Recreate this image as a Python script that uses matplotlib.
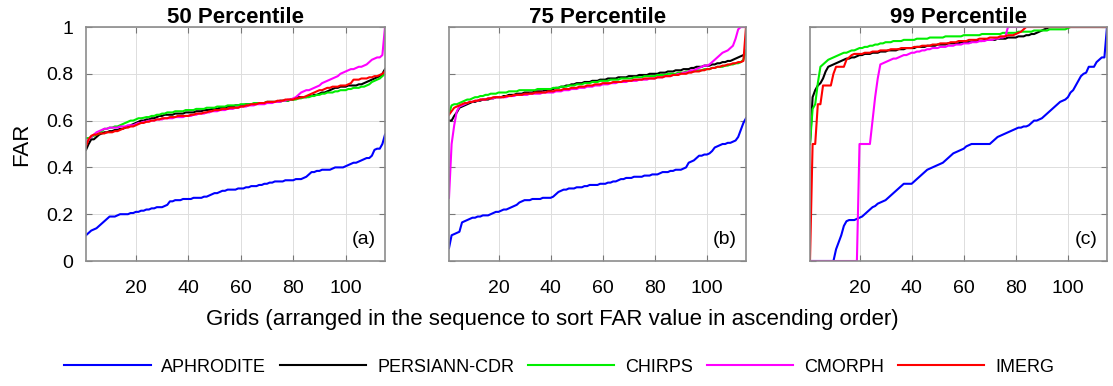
import numpy as np
import matplotlib
matplotlib.use("Agg")
import matplotlib.pyplot as plt

plt.rcParams['font.family'] = ['Liberation Sans', 'DejaVu Sans']

titles = ["50 Percentile", "75 Percentile", "99 Percentile"]
panel_tags = ["(a)", "(b)", "(c)"]
product_names = ["APHRODITE", "PERSIANN-CDR", "CHIRPS", "CMORPH", "IMERG"]
product_colors = ["#0000ff", "#000000", "#00ee00", "#ff00ff", "#ff0000"]
x_ticks = [20, 40, 60, 80, 100]
y_ticks = [0, 0.2, 0.4, 0.6, 0.8, 1]
y_tick_labels = ["0", "0.2", "0.4", "0.6", "0.8", "1"]

# ---------- 50 percentile ----------
aphrodite_50 = [
    .11, .12, .13, .135, .14, .15, .16, .17, .18, .19,
    .19, .19, .195, .20, .20, .20, .20, .205, .205, .21,
    .21, .215, .215, .22, .22, .225, .225, .23, .23, .23,
    .235, .24, .255, .255, .26, .26, .26, .265, .265, .265,
    .265, .27, .27, .27, .27, .275, .275, .28, .285, .29,
    .29, .295, .30, .30, .305, .305, .305, .305, .31, .31,
    .31, .315, .315, .32, .32, .32, .325, .325, .33, .33,
    .335, .335, .34, .34, .34, .34, .345, .345, .345, .345,
    .35, .35, .35, .355, .36, .37, .38, .38, .385, .385,
    .39, .39, .39, .39, .395, .40, .40, .40, .40, .405,
    .41, .415, .42, .42, .425, .43, .435, .44, .44, .45,
    .475, .48, .48, .50, .54]
persiann_50 = [
    .475, .50, .52, .52, .53, .54, .545, .55, .55, .555,
    .555, .56, .56, .565, .565, .57, .575, .58, .585, .59,
    .595, .60, .60, .605, .605, .61, .61, .615, .62, .62,
    .625, .625, .625, .625, .63, .63, .63, .63, .635, .635,
    .635, .635, .64, .64, .64, .645, .645, .645, .65, .65,
    .65, .655, .655, .655, .66, .66, .66, .665, .665, .665,
    .665, .67, .67, .67, .67, .675, .675, .675, .675, .68,
    .68, .68, .68, .68, .685, .685, .685, .685, .69, .69,
    .695, .70, .70, .70, .70, .705, .705, .71, .71, .715,
    .72, .72, .725, .73, .735, .74, .74, .745, .745, .745,
    .75, .75, .75, .75, .755, .755, .76, .765, .77, .775,
    .78, .785, .79, .80, .82]
chirps_50 = [
    .525, .525, .53, .535, .54, .545, .555, .565, .565, .57,
    .57, .575, .575, .58, .585, .59, .595, .60, .60, .605,
    .61, .61, .612, .615, .615, .62, .62, .625, .625, .63,
    .63, .635, .635, .635, .64, .64, .64, .64, .645, .645,
    .645, .645, .65, .65, .65, .65, .655, .655, .655, .655,
    .66, .66, .66, .66, .665, .665, .665, .665, .665, .67,
    .67, .67, .67, .67, .675, .675, .675, .675, .675, .68,
    .68, .68, .68, .68, .68, .685, .685, .685, .69, .69,
    .69, .695, .695, .70, .70, .70, .705, .705, .71, .71,
    .715, .715, .72, .72, .72, .725, .725, .73, .73, .73,
    .735, .735, .74, .74, .74, .745, .745, .75, .755, .765,
    .77, .775, .78, .79, .80]
cmorph_50 = [
    .50, .52, .53, .54, .55, .555, .56, .565, .565, .57,
    .57, .57, .57, .575, .575, .575, .58, .58, .58, .585,
    .59, .59, .595, .595, .60, .60, .60, .605, .605, .605,
    .61, .61, .61, .61, .615, .615, .615, .615, .62, .62,
    .62, .625, .625, .63, .63, .63, .635, .635, .64, .64,
    .64, .645, .645, .645, .65, .65, .65, .655, .655, .66,
    .66, .66, .665, .665, .665, .67, .67, .67, .67, .675,
    .675, .675, .68, .68, .68, .685, .685, .69, .69, .695,
    .70, .71, .72, .725, .73, .73, .735, .74, .745, .75,
    .76, .765, .77, .775, .78, .785, .79, .80, .805, .81,
    .815, .82, .82, .825, .83, .83, .835, .84, .85, .86,
    .865, .87, .87, .88, 1.0]
imerg_50 = [
    .49, .52, .535, .54, .54, .545, .545, .545, .55, .55,
    .55, .555, .555, .56, .565, .57, .57, .575, .575, .58,
    .585, .59, .59, .595, .595, .60, .60, .605, .605, .61,
    .61, .61, .615, .615, .615, .62, .62, .62, .62, .62,
    .625, .625, .63, .63, .63, .635, .635, .64, .64, .645,
    .645, .645, .65, .65, .65, .655, .655, .655, .655, .66,
    .66, .665, .665, .67, .67, .67, .675, .675, .675, .68,
    .68, .68, .68, .685, .685, .685, .69, .69, .69, .69,
    .695, .695, .70, .70, .705, .71, .715, .72, .725, .73,
    .73, .735, .74, .74, .745, .745, .745, .75, .75, .75,
    .755, .76, .775, .775, .775, .78, .78, .78, .785, .785,
    .79, .79, .795, .80, .81]

# ---------- 75 percentile ----------
aphrodite_75 = [
    .055, .11, .115, .12, .125, .165, .17, .175, .18, .185,
    .185, .19, .19, .195, .195, .195, .20, .205, .21, .21,
    .215, .22, .22, .225, .23, .235, .24, .25, .255, .26,
    .26, .26, .265, .265, .265, .265, .27, .27, .27, .27,
    .275, .285, .295, .30, .305, .305, .31, .31, .31, .315,
    .315, .315, .32, .32, .325, .325, .325, .325, .33, .33,
    .33, .335, .335, .34, .34, .345, .35, .35, .355, .355,
    .355, .36, .36, .36, .36, .365, .365, .365, .37, .37,
    .37, .375, .38, .38, .38, .385, .385, .39, .39, .39,
    .395, .40, .42, .425, .43, .44, .45, .45, .455, .455,
    .46, .47, .485, .49, .495, .50, .50, .505, .505, .51,
    .515, .53, .56, .59, .61]
persiann_75 = [
    .60, .60, .62, .635, .655, .66, .665, .67, .675, .68,
    .68, .685, .685, .69, .69, .69, .695, .695, .70, .70,
    .70, .705, .705, .71, .71, .71, .715, .715, .715, .72,
    .72, .72, .72, .725, .725, .725, .725, .73, .73, .73,
    .735, .74, .74, .745, .745, .75, .75, .755, .755, .76,
    .76, .76, .765, .765, .765, .77, .77, .77, .775, .775,
    .775, .78, .78, .78, .78, .785, .785, .785, .785, .79,
    .79, .79, .79, .795, .795, .795, .795, .80, .80, .80,
    .80, .805, .805, .805, .81, .81, .81, .815, .815, .815,
    .82, .82, .82, .825, .825, .83, .83, .83, .835, .835,
    .835, .84, .84, .845, .845, .85, .85, .855, .855, .86,
    .865, .87, .875, .88, .885]
chirps_75 = [
    .63, .665, .67, .67, .675, .68, .685, .69, .69, .695,
    .70, .70, .705, .705, .71, .71, .715, .715, .715, .72,
    .72, .72, .72, .725, .725, .725, .725, .73, .73, .73,
    .73, .73, .73, .73, .735, .735, .735, .735, .735, .735,
    .74, .74, .74, .745, .745, .745, .75, .75, .75, .755,
    .755, .755, .76, .76, .76, .765, .765, .765, .77, .77,
    .77, .77, .775, .775, .775, .775, .78, .78, .78, .78,
    .78, .785, .785, .785, .785, .79, .79, .79, .79, .79,
    .795, .795, .795, .795, .80, .80, .80, .80, .805, .805,
    .805, .81, .81, .81, .81, .815, .815, .815, .82, .82,
    .82, .825, .825, .83, .83, .83, .835, .835, .84, .84,
    .845, .845, .85, .86, .90]
cmorph_75 = [
    .27, .50, .58, .64, .66, .665, .67, .675, .68, .68,
    .685, .685, .69, .69, .69, .695, .695, .695, .70, .70,
    .70, .70, .70, .705, .705, .705, .71, .71, .71, .71,
    .71, .715, .715, .715, .715, .715, .72, .72, .72, .72,
    .72, .725, .725, .725, .73, .73, .73, .735, .735, .735,
    .74, .74, .74, .745, .745, .745, .75, .75, .75, .755,
    .755, .755, .76, .76, .76, .765, .765, .765, .765, .77,
    .77, .77, .77, .775, .775, .775, .775, .78, .78, .78,
    .785, .785, .785, .79, .79, .79, .795, .795, .80, .80,
    .805, .805, .81, .815, .815, .82, .825, .83, .835, .835,
    .84, .85, .86, .87, .88, .89, .895, .90, .91, .92,
    .95, .99, 1.0, 1.0, 1.0]
imerg_75 = [
    .625, .64, .655, .66, .665, .67, .675, .675, .68, .68,
    .685, .685, .69, .69, .69, .695, .695, .70, .70, .70,
    .70, .70, .705, .705, .705, .71, .71, .71, .71, .715,
    .715, .715, .715, .72, .72, .72, .72, .72, .725, .725,
    .725, .73, .73, .73, .735, .735, .735, .74, .74, .74,
    .745, .745, .745, .75, .75, .75, .755, .755, .755, .76,
    .76, .76, .76, .765, .765, .765, .765, .77, .77, .77,
    .77, .775, .775, .775, .775, .78, .78, .78, .78, .78,
    .785, .785, .785, .79, .79, .79, .795, .795, .795, .80,
    .80, .80, .805, .805, .81, .81, .81, .815, .815, .82,
    .82, .825, .825, .83, .83, .835, .835, .84, .84, .845,
    .845, .85, .85, .855, 1.0]

# ---------- 99 percentile ----------
aphrodite_99 = [
    0, 0, 0, 0, 0, 0, 0, 0, 0, 0,
    .05, .08, .11, .15, .17, .175, .175, .175, .18, .185,
    .19, .20, .21, .22, .23, .235, .245, .25, .255, .26,
    .27, .28, .29, .30, .31, .32, .33, .33, .33, .33,
    .34, .35, .36, .37, .38, .39, .395, .40, .405, .41,
    .415, .42, .43, .44, .45, .46, .465, .47, .475, .48,
    .49, .495, .50, .50, .50, .50, .50, .50, .50, .50,
    .51, .52, .53, .535, .54, .545, .55, .555, .56, .565,
    .57, .57, .575, .575, .58, .59, .60, .60, .605, .61,
    .62, .63, .64, .65, .66, .67, .68, .685, .69, .70,
    .72, .73, .75, .77, .79, .80, .805, .83, .83, .83,
    .85, .86, .87, .87, 1.0]
persiann_99 = [
    .50, .70, .73, .75, .76, .78, .81, .83, .835, .84,
    .845, .85, .855, .86, .865, .865, .87, .87, .875, .88,
    .88, .885, .885, .885, .89, .89, .89, .895, .895, .895,
    .90, .90, .90, .90, .905, .905, .905, .91, .91, .91,
    .91, .915, .915, .915, .915, .92, .92, .92, .92, .925,
    .925, .925, .925, .93, .93, .93, .93, .93, .935, .935,
    .935, .935, .935, .94, .94, .94, .94, .945, .945, .945,
    .945, .945, .95, .95, .95, .95, .955, .955, .955, .955,
    .96, .96, .96, .965, .965, .97, .97, .975, .98, .985,
    .99, .995, 1, 1, 1, 1, 1, 1, 1, 1,
    1, 1, 1, 1, 1, 1, 1, 1, 1, 1,
    1, 1, 1, 1, 1]
chirps_99 = [
    .50, .65, .67, .76, .83, .84, .85, .86, .865, .87,
    .875, .88, .885, .89, .89, .895, .90, .90, .905, .91,
    .91, .915, .915, .92, .92, .925, .925, .93, .93, .935,
    .935, .935, .94, .94, .94, .94, .945, .945, .945, .945,
    .945, .95, .95, .95, .95, .95, .955, .955, .955, .955,
    .955, .955, .96, .96, .96, .96, .96, .96, .96, .965,
    .965, .965, .965, .965, .965, .965, .97, .97, .97, .97,
    .97, .97, .97, .97, .975, .975, .975, .975, .975, .975,
    .98, .98, .98, .98, .98, .98, .985, .985, .985, .985,
    .985, .985, .99, .99, .99, .99, .99, .99, .99, .995,
    1, 1, 1, 1, 1, 1, 1, 1, 1, 1,
    1, 1, 1, 1, 1]
cmorph_99 = [
    0, 0, 0, 0, 0, 0, 0, 0, 0, 0,
    0, 0, 0, 0, 0, 0, 0, 0, 0, .50,
    .50, .50, .50, .50, .60, .70, .78, .84, .845, .85,
    .855, .86, .865, .865, .87, .875, .88, .88, .885, .89,
    .89, .895, .895, .90, .90, .905, .905, .91, .91, .91,
    .915, .915, .915, .92, .92, .92, .925, .925, .925, .93,
    .93, .93, .935, .935, .935, .94, .94, .94, .945, .945,
    .945, .95, .95, .955, .955, .96, 1, 1, 1, 1,
    1, 1, 1, 1, 1, 1, 1, 1, 1, 1,
    1, 1, 1, 1, 1, 1, 1, 1, 1, 1,
    1, 1, 1, 1, 1, 1, 1, 1, 1, 1,
    1, 1, 1, 1, 1]
imerg_99 = [
    0, .50, .50, .67, .67, .75, .75, .75, .75, .80,
    .83, .83, .83, .83, .86, .87, .88, .885, .885, .885,
    .885, .89, .89, .89, .895, .895, .895, .90, .90, .90,
    .90, .905, .905, .905, .905, .91, .91, .91, .91, .91,
    .915, .915, .915, .92, .92, .92, .92, .925, .925, .925,
    .93, .93, .93, .93, .935, .935, .935, .94, .94, .94,
    .94, .945, .945, .945, .945, .95, .95, .95, .95, .955,
    .955, .955, .955, .96, .96, .96, .965, .965, .965, .97,
    .975, .98, .99, 1, 1, 1, 1, 1, 1, 1,
    1, 1, 1, 1, 1, 1, 1, 1, 1, 1,
    1, 1, 1, 1, 1, 1, 1, 1, 1, 1,
    1, 1, 1, 1, 1]

panels = [
    [aphrodite_50, persiann_50, chirps_50, cmorph_50, imerg_50],
    [aphrodite_75, persiann_75, chirps_75, cmorph_75, imerg_75],
    [aphrodite_99, persiann_99, chirps_99, cmorph_99, imerg_99],
]

W, H = 1113, 386
fig = plt.figure(figsize=(W / 100, H / 100), dpi=100)
axes_px = [(86, 385), (449, 746), (810, 1107)]
top_px, bot_px = 27, 261

axes = []
for i, (l, r) in enumerate(axes_px):
    ax = fig.add_axes([l / W, (H - bot_px) / H, (r - l) / W, (bot_px - top_px) / H])
    axes.append(ax)
    for series, name, col in zip(panels[i], product_names, product_colors):
        xs = np.arange(1, len(series) + 1)
        ax.plot(xs, series, color=col, lw=1.5, label=name)
    ax.set_xlim(1, 115)
    ax.set_ylim(0, 1)
    ax.set_xticks(x_ticks)
    ax.set_yticks(y_ticks)
    if i == 0:
        ax.set_yticklabels(y_tick_labels)
        ax.set_ylabel("FAR", fontsize=16, labelpad=10)
    else:
        ax.set_yticklabels([])
    ax.grid(True, color="#dddddd", lw=0.7)
    ax.set_axisbelow(True)
    for s in ax.spines.values():
        s.set_color("#8c8c8c")
        s.set_linewidth(1.2)
    ax.tick_params(direction="in", length=4, width=0.8, color="#777777",
                   labelsize=14, top=True, right=True)
    ax.tick_params(axis="x", pad=14)
    ax.tick_params(axis="y", pad=9)
    ax.set_title(titles[i], fontsize=16, fontweight="bold", pad=3)
    ax.text(0.97, 0.09, panel_tags[i], transform=ax.transAxes, ha="right",
            va="center", fontsize=14)

fig.text(552 / W, 1 - 320 / H,
         "Grids (arranged in the sequence to sort FAR value in ascending order)",
         ha="center", va="center", fontsize=16)

handles, labels = axes[0].get_legend_handles_labels()
fig.legend(handles, labels, loc="center", bbox_to_anchor=(559 / W, 1 - 367 / H),
           ncol=5, frameon=False, fontsize=13, handlelength=4.8,
           handletextpad=0.6, columnspacing=0.75)

fig.savefig("out.png", dpi=100)
